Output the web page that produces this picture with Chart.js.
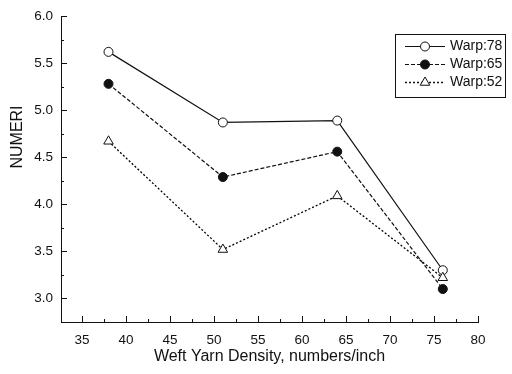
<!DOCTYPE html>
<html>
<head>
<meta charset="utf-8">
<script src="https://cdn.jsdelivr.net/npm/chart.js@4/dist/chart.umd.min.js"></script>
<style>
  html, body { margin: 0; padding: 0; background: #fff; }
  #wrap { width: 512px; height: 374px; }
</style>
</head>
<body>
<div id="wrap"><canvas id="numeriChart" width="512" height="374"></canvas></div>
<script>
// 緯密度 vs NUMERI
const weftDensity = [38, 51, 64, 76];
const warp78 = [5.62, 4.87, 4.89, 3.30];
const warp65 = [5.28, 4.29, 4.56, 3.10];
const warp52 = [4.67, 3.52, 4.09, 3.22];
const seriesNames = ['Warp:78', 'Warp:65', 'Warp:52'];
const xTickValues = [35, 40, 45, 50, 55, 60, 65, 70, 75, 80];
const yTickValues = [3.0, 3.5, 4.0, 4.5, 5.0, 5.5, 6.0];

const FONT = 'Arial, "Liberation Sans", sans-serif';
const INK = '#111';

const toPoints = ys => weftDensity.map((x, i) => ({ x: x, y: ys[i] }));

// 刻度線朝內畫，主刻度+次刻度
const innerTicks = {
    id: 'innerTicks',
    afterDraw(chart) {
        const ctx = chart.ctx;
        const xs = chart.scales.x, ys = chart.scales.y;
        const area = chart.chartArea;
        ctx.save();
        ctx.strokeStyle = INK;
        ctx.lineWidth = 1;
        ctx.beginPath();
        for (let i = 0; i < xTickValues.length; i++) {
            const v = xTickValues[i];
            const px = Math.round(xs.getPixelForValue(v)) + 0.5;
            ctx.moveTo(px, area.bottom);
            ctx.lineTo(px, area.bottom - 6);
            const mid = v - 2.5;
            if (mid > xs.min) {
                const pm = Math.round(xs.getPixelForValue(mid)) + 0.5;
                ctx.moveTo(pm, area.bottom);
                ctx.lineTo(pm, area.bottom - 3);
            }
        }
        for (let i = 0; i < yTickValues.length; i++) {
            const v = yTickValues[i];
            const py = Math.round(ys.getPixelForValue(v)) + 0.5;
            ctx.moveTo(area.left, py);
            ctx.lineTo(area.left + 6, py);
            const mid = v - 0.25;
            if (mid > ys.min) {
                const pm = Math.round(ys.getPixelForValue(mid)) + 0.5;
                ctx.moveTo(area.left, pm);
                ctx.lineTo(area.left + 3, pm);
            }
        }
        ctx.stroke();

        // 縱軸標題
        ctx.fillStyle = INK;
        ctx.font = '16px ' + FONT;
        ctx.textAlign = 'center';
        ctx.textBaseline = 'middle';
        ctx.translate(18, 137);
        ctx.rotate(-Math.PI / 2);
        ctx.fillText('NUMERI', 0, 0);
        ctx.restore();
    }
};

// 圖例框放在右上角的繪圖區內
const boxLegend = {
    id: 'boxLegend',
    afterDraw(chart) {
        const ctx = chart.ctx;
        const box = { left: 395, top: 34, width: 110, height: 63 };
        const rowH = 18;
        ctx.save();
        ctx.fillStyle = '#fff';
        ctx.fillRect(box.left, box.top, box.width, box.height);
        ctx.strokeStyle = INK;
        ctx.lineWidth = 1;
        ctx.strokeRect(box.left + 0.5, box.top + 0.5, box.width, box.height);
        ctx.font = '14px ' + FONT;
        ctx.textBaseline = 'middle';
        ctx.textAlign = 'left';
        chart.data.datasets.forEach((ds, i) => {
            const y = box.top + 12 + i * rowH + 0.5;
            ctx.strokeStyle = INK;
            ctx.lineWidth = ds.borderWidth;
            ctx.setLineDash(ds.borderDash || []);
            ctx.beginPath();
            ctx.moveTo(box.left + 10, y);
            ctx.lineTo(box.left + 50, y);
            ctx.stroke();
            ctx.setLineDash([]);
            ctx.fillStyle = ds.pointBackgroundColor;
            ctx.strokeStyle = ds.pointBorderColor;
            ctx.lineWidth = 1;
            Chart.helpers.drawPoint(ctx, {
                pointStyle: ds.pointStyle,
                radius: ds.pointRadius,
                rotation: 0,
                borderWidth: 1
            }, box.left + 30, y);
            ctx.fillStyle = INK;
            ctx.fillText(ds.label, box.left + 55, y);
        });
        ctx.restore();
    }
};

const ctx = document.getElementById('numeriChart').getContext('2d');
new Chart(ctx, {
    type: 'line',
    data: {
        datasets: [
            {
                label: seriesNames[0],
                data: toPoints(warp78),
                borderColor: INK,
                borderWidth: 1.2,
                pointStyle: 'circle',
                pointRadius: 4.5,
                pointBackgroundColor: '#fff',
                pointBorderColor: INK,
                pointBorderWidth: 1,
                order: 2
            },
            {
                label: seriesNames[1],
                data: toPoints(warp65),
                borderColor: INK,
                borderWidth: 1.2,
                borderDash: [4, 2],
                pointStyle: 'circle',
                pointRadius: 4.5,
                pointBackgroundColor: INK,
                pointBorderColor: INK,
                pointBorderWidth: 1,
                order: 1
            },
            {
                label: seriesNames[2],
                data: toPoints(warp52),
                borderColor: '#000',
                borderWidth: 1.3,
                borderDash: [2, 2],
                pointStyle: 'triangle',
                pointRadius: 5.5,
                pointBackgroundColor: '#fff',
                pointBorderColor: INK,
                pointBorderWidth: 1,
                order: 0
            }
        ]
    },
    options: {
        responsive: false,
        animation: false,
        layout: { padding: { left: 0, top: 15, right: 34, bottom: 0 } },
        plugins: {
            legend: { display: false },
            tooltip: { enabled: false }
        },
        scales: {
            x: {
                type: 'linear',
                min: 32.6,
                max: 80,
                afterBuildTicks: scale => { scale.ticks = xTickValues.map(v => ({ value: v })); },
                afterFit: scale => { scale.height = 52; },
                grid: { display: true, drawOnChartArea: false, drawTicks: false },
                border: { display: true, color: INK, width: 1 },
                ticks: {
                    padding: 10,
                    color: INK,
                    font: { family: FONT, size: 13.5 },
                    maxRotation: 0
                },
                title: {
                    display: true,
                    text: 'Weft Yarn Density, numbers/inch',
                    color: INK,
                    font: { family: FONT, size: 16 },
                    padding: { top: 0, bottom: 8 }
                }
            },
            y: {
                type: 'linear',
                min: 2.75,
                max: 6.0,
                afterBuildTicks: scale => { scale.ticks = yTickValues.map(v => ({ value: v })); },
                afterFit: scale => { scale.width = 61; },
                grid: { display: true, drawOnChartArea: false, drawTicks: false },
                border: { display: true, color: INK, width: 1 },
                ticks: {
                    padding: 8,
                    color: INK,
                    font: { family: FONT, size: 13.5 },
                    callback: v => v.toFixed(1)
                }
            }
        }
    },
    plugins: [innerTicks, boxLegend]
});
</script>
</body>
</html>
